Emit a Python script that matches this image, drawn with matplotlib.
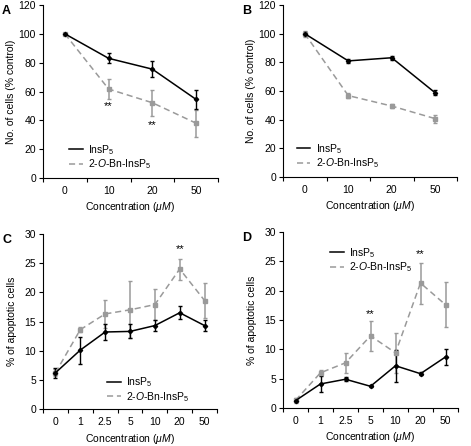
import numpy as np
import matplotlib.pyplot as plt
from matplotlib.lines import Line2D

plt.rcParams['font.family'] = ['Liberation Sans', 'DejaVu Sans']
plt.rcParams['mathtext.fontset'] = 'custom'
plt.rcParams['mathtext.rm'] = 'Liberation Sans'
plt.rcParams['mathtext.it'] = 'Liberation Sans:italic'
plt.rcParams['font.size'] = 7.5

# data
conc_ab = ['0', '10', '20', '50']
conc_cd = ['0', '1', '2.5', '5', '10', '20', '50']

a_ins = [100, 83, 75.5, 54.5]
a_ins_err = [0.5, 3.5, 5.6, 6.7]
a_bn = [100, 61.7, 52.2, 38]
a_bn_err = [0.8, 6.9, 9, 9.5]

b_ins = [100, 81, 83.2, 58.7]
b_ins_err = [1, 1.3, 1.5, 1.8]
b_bn = [100, 56.8, 49.5, 40.7]
b_bn_err = [2, 1.5, 1.5, 2.8]

c_ins = [6.2, 10.1, 13.2, 13.3, 14.3, 16.5, 14.3]
c_ins_err = [0.8, 2.3, 1.3, 1.2, 0.9, 1.1, 0.9]
c_bn = [6.2, 13.6, 16.3, 17.0, 17.9, 24.0, 18.6]
c_bn_err = [0.6, 0.4, 2.4, 4.9, 2.7, 1.8, 3.0]

d_ins = [1.25, 4.1, 4.9, 3.7, 7.2, 5.85, 8.7]
d_ins_err = [0.3, 1.3, 0.3, 0.2, 2.7, 0.3, 1.3]
d_bn = [1.3, 6.0, 7.7, 12.3, 9.4, 21.3, 17.6]
d_bn_err = [0.4, 0.4, 1.75, 2.5, 3.4, 3.5, 3.8]

GRAY = '#9a9a9a'
W, H = 471, 446
fig = plt.figure(figsize=(W / 100, H / 100), dpi=100)

def add_ax(l, r, t, b):
    return fig.add_axes([l / W, (H - b) / H, (r - l) / W, (b - t) / H])

def panel(ax, cats, ins, ins_err, bn, bn_err, ymax, ystep, ylabel, ylpad,
          letter, leg_loc, leg_xy, stars):
    x = np.arange(len(cats))
    ax.errorbar(x, bn, yerr=bn_err, color=GRAY, ls=(0, (4, 2.5)), lw=1.1,
                marker='s', ms=3, capsize=1.5, elinewidth=1.1)
    ax.errorbar(x, ins, yerr=ins_err, color='black', lw=1.1,
                marker='D', ms=2.2, capsize=1.5, elinewidth=1)
    ax.set_xlim(-0.5, len(cats) - 0.5)
    ax.set_ylim(0, ymax)
    ax.set_yticks(np.arange(0, ymax + 0.1, ystep))
    ax.set_xticks(x)
    ax.set_xticklabels(cats)
    ax.set_xticks(np.arange(-0.5, len(cats), 1), minor=True)
    ax.tick_params(axis='x', which='major', length=0, pad=6)
    ax.tick_params(axis='x', which='minor', length=3, width=0.8)
    ax.tick_params(axis='y', length=3, width=0.8, pad=2)
    for s in ['top', 'right']:
        ax.spines[s].set_visible(False)
    for s in ['left', 'bottom']:
        ax.spines[s].set_linewidth(0.8)
    ax.set_ylabel(ylabel, labelpad=ylpad)
    ax.set_xlabel('Concentration ($\\mathit{\\mu M}$)', labelpad=3)
    handles = [Line2D([], [], color='black', lw=1.1),
               Line2D([], [], color=GRAY, lw=1.1, ls=(0, (4, 2.5)))]
    labels = ['InsP$_5$', '2-$\\mathit{O}$-Bn-InsP$_5$']
    ax.legend(handles, labels, frameon=False, loc=leg_loc,
              bbox_to_anchor=leg_xy, handlelength=1.3, handletextpad=0.5,
              labelspacing=0.05, borderpad=0, borderaxespad=0)
    ax.text(-0.235, 1.0, letter, transform=ax.transAxes, fontweight='bold',
            fontsize=9, va='top', ha='left')
    for xi, yi in stars:
        ax.text(xi, yi, '**', ha='center', va='center', fontsize=8)

axA = add_ax(43, 218, 5, 178)
panel(axA, conc_ab, a_ins, a_ins_err, a_bn, a_bn_err, 120, 20,
      'No. of cells (% control)', 1.5, 'A', 'lower left', (0.15, 0.04),
      [(1, 50), (2, 37)])

axB = add_ax(283, 457, 5, 177)
panel(axB, conc_ab, b_ins, b_ins_err, b_bn, b_bn_err, 120, 20,
      'No. of cells (% control)', 1.5, 'B', 'lower left', (0.08, 0.04), [])

axC = add_ax(43, 217, 234, 409)
panel(axC, conc_cd, c_ins, c_ins_err, c_bn, c_bn_err, 30, 5,
      '% of apoptotic cells', 5, 'C', 'lower left', (0.37, 0.03), [(5, 27.5)])

axD = add_ax(283, 458, 232, 408)
panel(axD, conc_cd, d_ins, d_ins_err, d_bn, d_bn_err, 30, 5,
      '% of apoptotic cells', 5, 'D', 'upper left', (0.27, 0.92),
      [(3, 16.0), (5, 26.2)])

fig.savefig('out.png', dpi=100)
